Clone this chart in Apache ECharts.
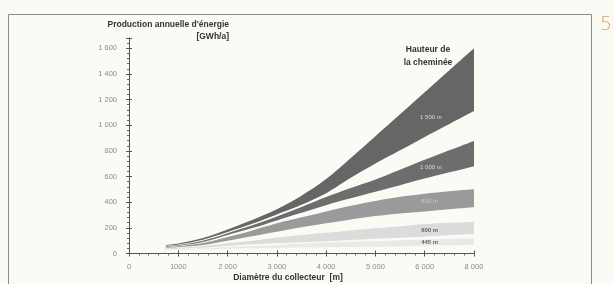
<!DOCTYPE html>
<html>
<head>
<meta charset="utf-8">
<script src="https://cdn.jsdelivr.net/npm/echarts@6/dist/echarts.min.js"></script>
<style>
  html, body { margin: 0; padding: 0; background: #fbfbf6; }
  #chart { width: 614px; height: 284px; }
</style>
</head>
<body>
<div id="chart"></div>
<script>
// diamètre du collecteur [m]
const diameters = [750, 1000, 1500, 2000, 2500, 3000, 3500, 4000, 4500, 5000, 5500, 6000, 6500, 7000]

// bornes haute / basse de chaque bande [GWh/a]
const top1500 = [66, 78, 120, 188, 262, 345, 450, 580, 745, 915, 1085, 1257, 1428, 1600]
const low1500 = [60, 70, 108, 168, 232, 305, 380, 470, 590, 702, 805, 909, 1010, 1111]
const top1000 = [56, 66, 100, 158, 220, 288, 362, 440, 510, 577, 653, 730, 805, 878]
const low1000 = [52, 60, 90, 144, 198, 258, 318, 377, 430, 481, 533, 585, 633, 681]
const top800 = [50, 56, 82, 128, 180, 235, 282, 328, 372, 410, 442, 466, 485, 500]
const low800 = [44, 48, 66, 100, 135, 170, 205, 235, 265, 292, 312, 328, 345, 360]
const top600 = [40, 44, 58, 80, 100, 125, 145, 162, 180, 196, 213, 230, 240, 248]
const low600 = [34, 37, 46, 60, 72, 80, 88, 95, 105, 115, 123, 131, 142, 152]
const top445 = [30, 33, 40, 50, 58, 65, 77, 87, 92, 97, 104, 110, 114, 118]
const low445 = [26, 28, 32, 36, 40, 43, 46, 48, 51, 53, 57, 61, 64, 66]

const bandNames = ['1 500 m', '1 000 m', '800 m', '600 m', '445 m']
const labelX = [6125, 6125, 6100, 6100, 6100]
const labelY = [1065, 668, 408, 183, 87]

const xTickLabels = ['0', '1000', '2 000', '3 000', '4 000', '5 000', '6 000', '8 000']
const yTickLabels = ['0', '200', '400', '600', '800', '1 000', '1 200', '1 400', '1 600']

const BG = '#fbfbf6'
const FONT = 'Liberation Sans, Arial, sans-serif'

const chart = echarts.init(document.getElementById('chart'))

const bands = [
  { name: bandNames[0], top: top1500, low: low1500, color: '#666666', text: '#f2f2f2', bold: false },
  { name: bandNames[1], top: top1000, low: low1000, color: '#6d6d6d', text: '#f2f2f2', bold: false },
  { name: bandNames[2], top: top800, low: low800, color: '#9a9a9a', text: '#d6d6d6', bold: false },
  { name: bandNames[3], top: top600, low: low600, color: '#dcdcdc', text: '#444', bold: true },
  { name: bandNames[4], top: top445, low: low445, color: '#e9e9e7', text: '#444', bold: true }
]

// chaque bande : aire sous la borne haute (couleur), puis aire sous la borne basse (fond)
const series = []
bands.forEach((b) => {
  series.push({
    type: 'line', smooth: 0.3, symbol: 'none', silent: true,
    lineStyle: { width: 0 },
    areaStyle: { color: b.color, opacity: 1 },
    data: diameters.map((x, k) => [x, b.top[k]])
  })
  series.push({
    type: 'line', smooth: 0.3, symbol: 'none', silent: true,
    lineStyle: { width: 0 },
    areaStyle: { color: BG, opacity: 1 },
    data: diameters.map((x, k) => [x, b.low[k]])
  })
})

series.push({
  type: 'scatter',
  symbolSize: 0,
  silent: true,
  z: 10,
  data: bands.map((b, i) => ({
    value: [labelX[i], labelY[i]],
    label: {
      show: true, position: 'inside', formatter: b.name,
      color: b.text, fontSize: 6, fontWeight: b.bold ? 'bold' : 'normal',
      fontFamily: FONT
    }
  }))
})

const tickFont = { color: '#8a8a8a', fontSize: 7.5, fontFamily: FONT }

const option = {
  backgroundColor: BG,
  animation: false,
  grid: { left: 129, right: 140, top: 38, bottom: 30.5 },
  xAxis: [
    {
      type: 'value', min: 0, max: 7000, interval: 1000, z: 5,
      axisLine: { show: true, lineStyle: { color: '#555', width: 1 } },
      axisTick: { show: true, length: 3, lineStyle: { color: '#555' } },
      minorTick: { show: true, splitNumber: 5, length: 2, lineStyle: { color: '#666' } },
      splitLine: { show: false },
      axisLabel: {
        ...tickFont, margin: 9,
        formatter: (v) => xTickLabels[Math.round(v / 1000)]
      }
    },
    {
      type: 'value', min: 0, max: 7000, interval: 1000, position: 'bottom', z: 5,
      axisLine: { show: false },
      axisTick: { show: true, inside: true, length: 3, lineStyle: { color: '#555' } },
      splitLine: { show: false },
      axisLabel: { show: false }
    }
  ],
  yAxis: [
    {
      type: 'value', min: 0, max: 1680, interval: 200, z: 5,
      axisLine: { show: true, lineStyle: { color: '#555', width: 1 } },
      axisTick: { show: true, length: 3, lineStyle: { color: '#555' } },
      minorTick: { show: true, splitNumber: 5, length: 2, lineStyle: { color: '#666' } },
      splitLine: { show: false },
      axisLabel: {
        ...tickFont, margin: 12, showMaxLabel: false,
        formatter: (v) => (v % 200 === 0 ? yTickLabels[v / 200] : '')
      }
    },
    {
      type: 'value', min: 0, max: 1680, interval: 200, position: 'left', z: 5,
      axisLine: { show: false },
      axisTick: { show: true, inside: true, length: 3, lineStyle: { color: '#555' } },
      splitLine: { show: false },
      axisLabel: { show: false }
    }
  ],
  graphic: [
    {
      type: 'rect', shape: { x: 8.5, y: 14.5, width: 583, height: 300 },
      style: { fill: null, stroke: '#8c8c8c', lineWidth: 1 }, silent: true
    },
    {
      type: 'text', left: 600, top: 16,
      style: { text: '5', fill: '#e0a25a', fontSize: 19, fontFamily: 'DejaVu Sans, sans-serif', fontWeight: 200 }
    },
    {
      type: 'text', x: 229, y: 19,
      style: {
        text: "Production annuelle d'énergie\n[GWh/a]", align: 'right',
        fill: '#333', fontSize: 8.5, fontWeight: 'bold', lineHeight: 12, fontFamily: FONT
      }
    },
    {
      type: 'text', x: 428, y: 43,
      style: {
        text: 'Hauteur de\nla cheminée', align: 'center',
        fill: '#333', fontSize: 8.5, fontWeight: 'bold', lineHeight: 13, fontFamily: FONT
      }
    },
    {
      type: 'text', x: 288, y: 273,
      style: {
        text: 'Diamètre du collecteur  [m]', align: 'center',
        fill: '#333', fontSize: 8.5, fontWeight: 'bold', fontFamily: FONT
      }
    }
  ],
  series: series
}

chart.setOption(option)
</script>
</body>
</html>
